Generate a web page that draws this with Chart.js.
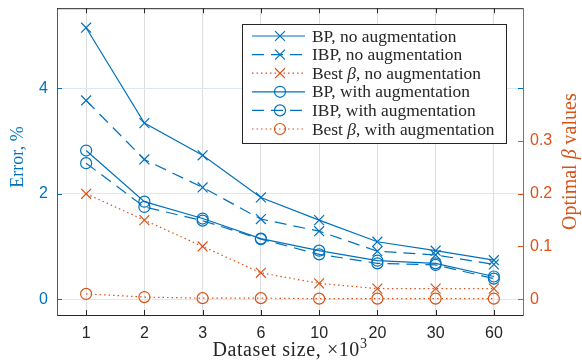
<!DOCTYPE html>
<html lang="en">
<head>
  <meta charset="UTF-8">
  <title>Error vs dataset size</title>
  <script src="https://cdn.jsdelivr.net/npm/chart.js@4.4.0/dist/chart.umd.min.js"></script>
  <style>
    html, body { margin: 0; padding: 0; background: #ffffff; }
    .chart-container { position: relative; width: 582px; height: 362px; }
  </style>
</head>
<body>
  <div class="chart-container">
    <canvas id="error-chart"></canvas>
  </div>

  <script>
    // dataset size (x10^3)
    const sizes = ['1', '2', '3', '6', '10', '20', '30', '60'];

    // error, % (left axis)
    const bpNoAug  = [5.15, 3.34, 2.73, 1.93, 1.50, 1.09, 0.92, 0.74];
    const ibpNoAug = [3.77, 2.65, 2.12, 1.52, 1.29, 0.91, 0.84, 0.66];
    const bpAug    = [2.82, 1.85, 1.53, 1.15, 0.92, 0.73, 0.68, 0.43];
    const ibpAug   = [2.58, 1.75, 1.49, 1.14, 0.85, 0.68, 0.65, 0.39];

    // optimal beta (right axis)
    const betaNoAug = [0.20, 0.15, 0.10, 0.05, 0.03, 0.02, 0.02, 0.02];
    const betaAug   = [0.010, 0.004, 0.002, 0.002, 0.001, 0.001, 0.001, 0.001];

    const leftTicks  = [0, 2, 4];
    const rightTicks = [0, 0.1, 0.2, 0.3];

    const BLUE = '#0072BD';
    const ORANGE = '#D95319';
    const DARK = '#262626';
    const SANS = '"Liberation Sans", Arial, sans-serif';
    const SERIF = '"Liberation Serif", "Times New Roman", serif';

    function series(label, data, axis, color, dash, marker) {
      return {
        label: label,
        data: data,
        yAxisID: axis,
        borderColor: color,
        borderWidth: 1.2,
        borderDash: dash,
        pointStyle: marker,
        pointRadius: marker === 'circle' ? 5.5 : 7,
        pointBorderWidth: 1.2,
        pointBorderColor: color,
        pointBackgroundColor: 'rgba(0,0,0,0)',
        fill: false,
        tension: 0
      };
    }

    // draws a run of text pieces with their own fonts
    function drawParts(ctx, parts, x, y, align, spacing) {
      ctx.letterSpacing = (spacing || 0) + 'px';
      let total = 0;
      parts.forEach(p => { ctx.font = p.font; p.w = ctx.measureText(p.t).width; total += p.w; });
      let cx = align === 'center' ? x - total / 2 : x;
      ctx.textAlign = 'left';
      parts.forEach(p => {
        ctx.font = p.font;
        ctx.fillText(p.t, cx, y + (p.dy || 0));
        cx += p.w;
      });
      ctx.letterSpacing = '0px';
    }

    function betaParts(text, size) {
      const out = [];
      text.split('β').forEach((s, i) => {
        if (i > 0) out.push({ t: 'β', font: 'italic ' + size + 'px ' + SERIF });
        if (s) out.push({ t: s, font: size + 'px ' + SERIF });
      });
      return out;
    }

    function drawMarker(ctx, style, r, x, y) {
      ctx.beginPath();
      if (style === 'circle') {
        ctx.arc(x, y, r, 0, Math.PI * 2);
      } else {
        const d = r * Math.SQRT1_2;
        ctx.moveTo(x - d, y - d); ctx.lineTo(x + d, y + d);
        ctx.moveTo(x - d, y + d); ctx.lineTo(x + d, y - d);
      }
      ctx.stroke();
    }

    const decorPlugin = {
      id: 'decor',
      afterDraw(chart) {
        const ctx = chart.ctx;
        const a = chart.chartArea;
        const sx = chart.scales.x, sl = chart.scales.y, sr = chart.scales.y1;
        ctx.save();
        ctx.setLineDash([]);
        ctx.lineWidth = 1;

        // top box line
        ctx.strokeStyle = DARK;
        ctx.beginPath();
        ctx.moveTo(a.left, a.top + 0.5); ctx.lineTo(a.right, a.top + 0.5);
        ctx.stroke();

        // inward tick marks
        sizes.forEach((_, i) => {
          const px = Math.round(sx.getPixelForValue(i)) + 0.5;
          ctx.beginPath();
          ctx.moveTo(px, a.top); ctx.lineTo(px, a.top + 5);
          ctx.moveTo(px, a.bottom); ctx.lineTo(px, a.bottom - 5);
          ctx.stroke();
        });
        ctx.strokeStyle = BLUE;
        leftTicks.forEach(v => {
          const py = Math.round(sl.getPixelForValue(v)) + 0.5;
          ctx.beginPath();
          ctx.moveTo(a.left, py); ctx.lineTo(a.left + 5, py);
          ctx.moveTo(a.right, py); ctx.lineTo(a.right - 5, py);
          ctx.stroke();
        });
        ctx.strokeStyle = ORANGE;
        rightTicks.forEach(v => {
          const py = Math.round(sr.getPixelForValue(v)) + 0.5;
          ctx.beginPath();
          ctx.moveTo(a.right, py); ctx.lineTo(a.right - 5, py);
          ctx.stroke();
        });

        // axis titles
        ctx.textBaseline = 'middle';
        const midY = (a.top + a.bottom) / 2;
        ctx.fillStyle = DARK;
        drawParts(ctx, [
          { t: 'Dataset size, ×10', font: '20px ' + SERIF },
          { t: '3', font: '14px ' + SERIF, dy: -7 }
        ], (a.left + a.right) / 2, 351, 'center', 0.6);

        ctx.fillStyle = BLUE;
        ctx.save();
        ctx.translate(18, 157);
        ctx.rotate(-Math.PI / 2);
        drawParts(ctx, [{ t: 'Error, %', font: '18px ' + SERIF }], 0, 0, 'center', 0);
        ctx.restore();

        ctx.fillStyle = ORANGE;
        ctx.save();
        ctx.translate(571, midY);
        ctx.rotate(-Math.PI / 2);
        drawParts(ctx, betaParts('Optimal β values', 20), 0, 0, 'center', 0);
        ctx.restore();

        // legend box
        const lx = 242, ly = 24, lw = 264, lh = 119;
        ctx.fillStyle = '#ffffff';
        ctx.fillRect(lx, ly, lw, lh);
        ctx.strokeStyle = DARK;
        ctx.lineWidth = 1;
        ctx.strokeRect(lx + 0.5, ly + 0.5, lw, lh);

        chart.data.datasets.forEach((ds, i) => {
          const y = 36 + i * 18.6;
          ctx.strokeStyle = ds.borderColor;
          ctx.lineWidth = ds.borderWidth;
          ctx.setLineDash(ds.borderDash);
          ctx.beginPath();
          ctx.moveTo(252, y); ctx.lineTo(305, y);
          ctx.stroke();
          ctx.setLineDash([]);
          ctx.lineWidth = ds.pointBorderWidth;
          drawMarker(ctx, ds.pointStyle, ds.pointStyle === 'circle' ? 5.5 : 7, 280, y);
          ctx.fillStyle = DARK;
          drawParts(ctx, betaParts(ds.label, 17.4), 312, y + 1, 'left', 0);
        });
        ctx.restore();
      }
    };

    new Chart(document.getElementById('error-chart'), {
      type: 'line',
      data: {
        labels: sizes,
        datasets: [
          series('BP, no augmentation', bpNoAug, 'y', BLUE, [], 'crossRot'),
          series('IBP, no augmentation', ibpNoAug, 'y', BLUE, [12, 7], 'crossRot'),
          series('Best β, no augmentation', betaNoAug, 'y1', ORANGE, [1.5, 3], 'crossRot'),
          series('BP, with augmentation', bpAug, 'y', BLUE, [], 'circle'),
          series('IBP, with augmentation', ibpAug, 'y', BLUE, [12, 7], 'circle'),
          series('Best β, with augmentation', betaAug, 'y1', ORANGE, [1.5, 3], 'circle')
        ]
      },
      options: {
        responsive: true,
        maintainAspectRatio: false,
        animation: false,
        events: [],
        layout: { padding: { top: 8, left: 0, right: 0, bottom: 0 } },
        plugins: { legend: { display: false }, tooltip: { enabled: false } },
        scales: {
          x: {
            type: 'category',
            offset: true,
            grid: { color: '#dedede', drawTicks: false },
            border: { color: DARK, width: 1 },
            ticks: { color: DARK, font: { family: SANS, size: 16 }, padding: 9, maxRotation: 0 },
            afterFit(s) { s.height = 47; s.paddingLeft = 0; s.paddingRight = 0; }
          },
          y: {
            position: 'left',
            min: -0.3,
            max: 5.52,
            afterBuildTicks(s) { s.ticks = leftTicks.map(v => ({ value: v })); },
            grid: { color: '#d9eaf5', drawTicks: false },
            border: { color: BLUE, width: 1 },
            ticks: { color: BLUE, font: { family: SANS, size: 16 }, padding: 9, callback: v => String(v) },
            afterFit(s) { s.width = 57; s.paddingTop = 0; s.paddingBottom = 0; }
          },
          y1: {
            position: 'right',
            min: -0.03,
            max: 0.552,
            afterBuildTicks(s) { s.ticks = rightTicks.map(v => ({ value: v })); },
            grid: { display: false, drawTicks: false },
            border: { color: ORANGE, width: 1 },
            ticks: { color: ORANGE, font: { family: SANS, size: 16 }, padding: 7, callback: v => String(v) },
            afterFit(s) { s.width = 59; s.paddingTop = 0; s.paddingBottom = 0; }
          }
        }
      },
      plugins: [decorPlugin]
    });
  </script>
</body>
</html>
